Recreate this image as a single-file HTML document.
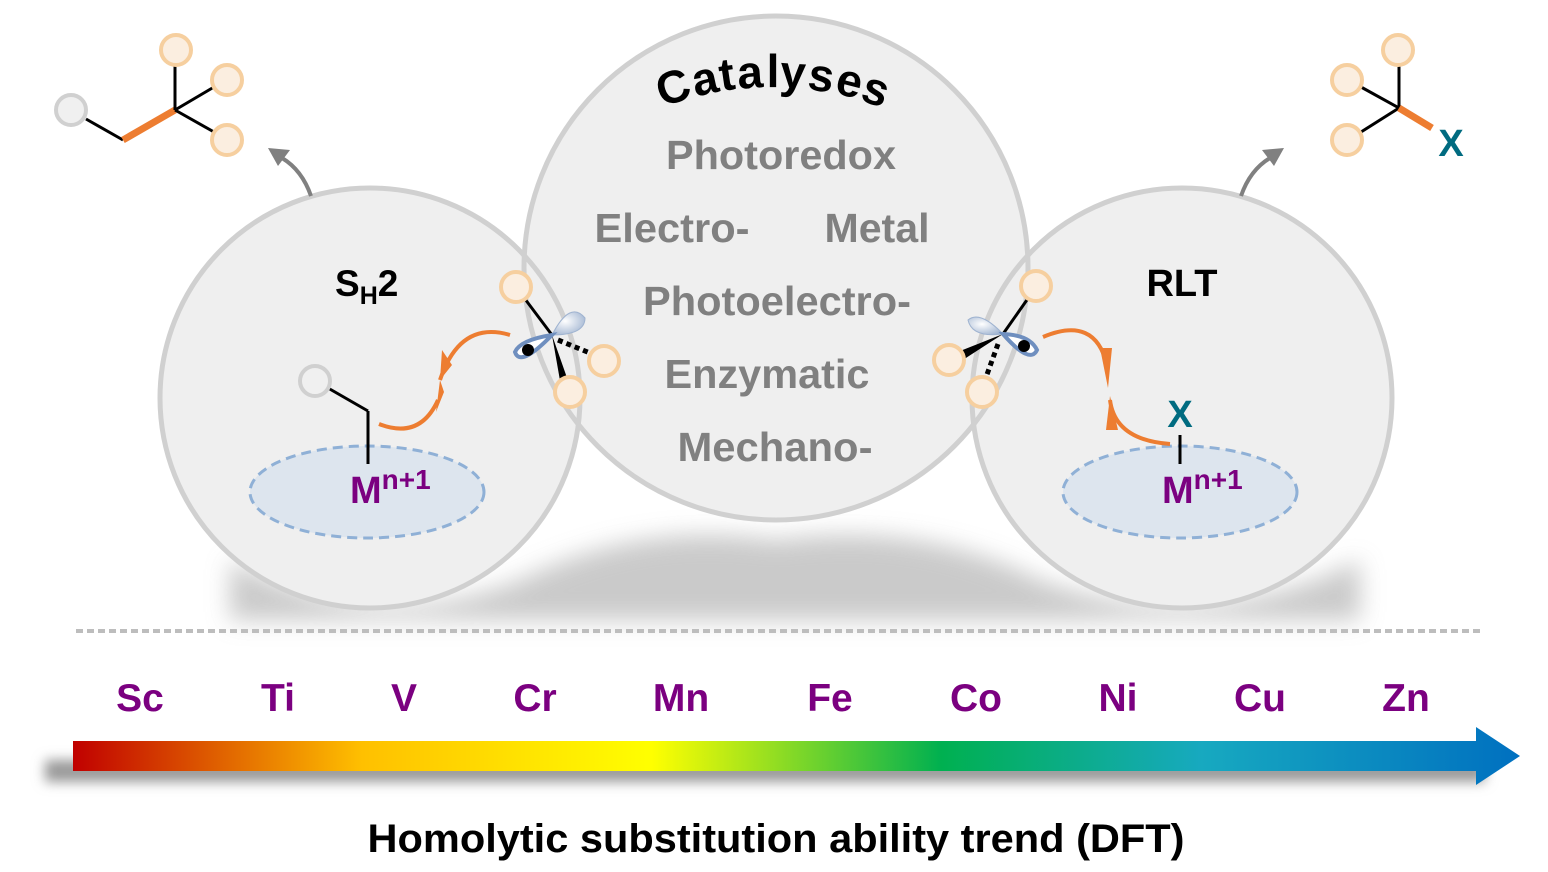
<!DOCTYPE html>
<html><head><meta charset="utf-8"><style>
html,body{margin:0;padding:0;background:#fff;}
svg{display:block;font-family:"Liberation Sans",sans-serif;font-weight:bold;}
</style></head><body>
<svg width="1548" height="872" viewBox="0 0 1548 872" xmlns="http://www.w3.org/2000/svg">
<defs>
<filter id="blur" x="-20%" y="-50%" width="140%" height="200%"><feGaussianBlur stdDeviation="12"/></filter>
<filter id="blur2" x="-5%" y="-100%" width="110%" height="300%"><feGaussianBlur stdDeviation="6"/></filter>
<linearGradient id="rb" x1="73" y1="0" x2="1520" y2="0" gradientUnits="userSpaceOnUse">
<stop offset="0" stop-color="#c00000"/><stop offset="0.2" stop-color="#ffc000"/><stop offset="0.4" stop-color="#ffff00"/>
<stop offset="0.6" stop-color="#00b050"/><stop offset="0.78" stop-color="#17a9c0"/><stop offset="1" stop-color="#0070c0"/>
</linearGradient>
<radialGradient id="lobe" cx="0.4" cy="0.4" r="0.7"><stop offset="0" stop-color="#fff"/><stop offset="1" stop-color="#9fb3d0"/></radialGradient>
</defs>
<!-- shadows -->
<path d="M230 560 Q370 640 520 580 Q640 520 776 540 Q920 520 1040 580 Q1200 640 1360 560 L1360 620 L230 620 Z" fill="#bdbdbd" filter="url(#blur)" opacity="0.8"/>
<!-- circle fills -->
<circle cx="776" cy="268" r="252" fill="#efefef"/>
<circle cx="370" cy="398" r="210" fill="#efefef"/>
<circle cx="1182" cy="398" r="210" fill="#efefef"/>
<circle cx="776" cy="268" r="252" fill="none" stroke="#d0d0d0" stroke-width="5"/>
<circle cx="370" cy="398" r="210" fill="none" stroke="#d0d0d0" stroke-width="5"/>
<circle cx="1182" cy="398" r="210" fill="none" stroke="#d0d0d0" stroke-width="5"/>
<!-- Catalyses arched -->
<g font-size="46" fill="#000" text-anchor="middle">
<text x="678" y="102" transform="rotate(-18.4 678 102)">C</text>
<text x="708" y="94" transform="rotate(-12.5 708 94)">a</text>
<text x="729" y="90" transform="rotate(-8.4 729 90)">t</text>
<text x="751" y="88" transform="rotate(-4.2 751 88)">a</text>
<text x="773" y="87">l</text>
<text x="792" y="88" transform="rotate(3.7 792 88)">y</text>
<text x="819" y="91" transform="rotate(8.8 819 91)">s</text>
<text x="846" y="96" transform="rotate(14 846 96)">e</text>
<text x="871" y="104" transform="rotate(19.2 871 104)">s</text>
</g>
<g fill="#808080" font-size="41" text-anchor="middle">
<text x="781" y="169" textLength="230" lengthAdjust="spacingAndGlyphs">Photoredox</text>
<text x="672" y="242" textLength="155" lengthAdjust="spacingAndGlyphs">Electro-</text>
<text x="877" y="242" textLength="105" lengthAdjust="spacingAndGlyphs">Metal</text>
<text x="777" y="315" textLength="268" lengthAdjust="spacingAndGlyphs">Photoelectro-</text>
<text x="767" y="388" textLength="205" lengthAdjust="spacingAndGlyphs">Enzymatic</text>
<text x="775" y="461" textLength="195" lengthAdjust="spacingAndGlyphs">Mechano-</text>
</g>
<!-- left -->
<text x="335" y="296" font-size="37" fill="#000">S<tspan font-size="25" dy="8">H</tspan><tspan dy="-8">2</tspan></text>
<ellipse cx="367" cy="492" rx="117" ry="46" fill="#dde5ee" stroke="#8fb0d6" stroke-width="3" stroke-dasharray="10 6"/>
<text x="350" y="503" font-size="38" fill="#7b0080">M<tspan font-size="28" dy="-14">n+1</tspan></text>
<line x1="368" y1="464" x2="368" y2="411" stroke="#000" stroke-width="3"/>
<line x1="368" y1="411" x2="328" y2="388" stroke="#000" stroke-width="3"/>
<circle cx="315" cy="381" r="15" fill="#f0f0f0" stroke="#d0d0d0" stroke-width="4"/>
<path d="M379 424 Q420 440 438 400 M440 380 Q460 320 510 335" fill="none" stroke="#ed7d31" stroke-width="4"/>
<path d="M436 412 L444 392 L440 380 Z" fill="#ed7d31"/><path d="M442 350 L452 365 L440 380 Z" fill="#ed7d31"/>
<line x1="516" y1="287" x2="552" y2="335" stroke="#000" stroke-width="3"/>
<path d="M552 335 L572 392 L562 392 Z" fill="#000"/>
<line x1="558" y1="340" x2="595" y2="355" stroke="#000" stroke-width="5" stroke-dasharray="5 4"/>
<path d="M552 335 Q570 300 585 318 Q585 335 552 335 Z" fill="url(#lobe)" stroke="#9fb3d0"/>
<path d="M552 335 Q520 340 515 352 Q520 368 552 335 Z" fill="#fff" stroke="#6f8fbf" stroke-width="4"/>
<circle cx="528" cy="350" r="6" fill="#000"/>
<circle cx="516" cy="287" r="15" fill="#fbeee0" stroke="#f6cf9f" stroke-width="4"/>
<circle cx="604" cy="361" r="15" fill="#fbeee0" stroke="#f6cf9f" stroke-width="4"/>
<circle cx="570" cy="392" r="15" fill="#fbeee0" stroke="#f6cf9f" stroke-width="4"/>
<!-- right -->
<text x="1182" y="296" font-size="38" fill="#000" text-anchor="middle">RLT</text>
<ellipse cx="1180" cy="492" rx="117" ry="46" fill="#dde5ee" stroke="#8fb0d6" stroke-width="3" stroke-dasharray="10 6"/>
<text x="1162" y="503" font-size="38" fill="#7b0080">M<tspan font-size="28" dy="-14">n+1</tspan></text>
<line x1="1180" y1="464" x2="1180" y2="435" stroke="#000" stroke-width="3"/>
<text x="1180" y="427" font-size="38" fill="#006b80" text-anchor="middle">X</text>
<path d="M1043 337 Q1095 315 1107 365 M1110 400 Q1115 440 1170 444" fill="none" stroke="#ed7d31" stroke-width="4"/>
<path d="M1100 348 L1112 348 L1108 388 Z" fill="#ed7d31"/><path d="M1110 396 L1118 430 L1106 430 Z" fill="#ed7d31"/>
<line x1="1036" y1="287" x2="1003" y2="334" stroke="#000" stroke-width="3"/>
<path d="M1003 334 L950 355 L955 365 Z" fill="#000"/>
<line x1="998" y1="344" x2="985" y2="380" stroke="#000" stroke-width="5" stroke-dasharray="5 4"/>
<path d="M1003 334 Q980 310 968 320 Q972 338 1003 334 Z" fill="url(#lobe)" stroke="#9fb3d0"/>
<path d="M1003 334 Q1030 335 1037 350 Q1030 365 1003 334 Z" fill="#fff" stroke="#6f8fbf" stroke-width="4"/>
<circle cx="1024" cy="346" r="6" fill="#000"/>
<circle cx="1036" cy="286" r="15" fill="#fbeee0" stroke="#f6cf9f" stroke-width="4"/>
<circle cx="949" cy="360" r="15" fill="#fbeee0" stroke="#f6cf9f" stroke-width="4"/>
<circle cx="982" cy="392" r="15" fill="#fbeee0" stroke="#f6cf9f" stroke-width="4"/>
<!-- top-left molecule -->
<line x1="86" y1="119" x2="123" y2="140" stroke="#000" stroke-width="3"/>
<line x1="123" y1="140" x2="175" y2="110" stroke="#ed7d31" stroke-width="7"/>
<line x1="175" y1="110" x2="175" y2="63" stroke="#000" stroke-width="3"/>
<line x1="175" y1="110" x2="214" y2="87" stroke="#000" stroke-width="3"/>
<line x1="175" y1="110" x2="214" y2="132" stroke="#000" stroke-width="3"/>
<circle cx="71" cy="110" r="15" fill="#f0f0f0" stroke="#d0d0d0" stroke-width="4"/>
<circle cx="176" cy="50" r="15" fill="#fbeee0" stroke="#f6cf9f" stroke-width="4"/>
<circle cx="227" cy="80" r="15" fill="#fbeee0" stroke="#f6cf9f" stroke-width="4"/>
<circle cx="227" cy="140" r="15" fill="#fbeee0" stroke="#f6cf9f" stroke-width="4"/>
<path d="M311 196 Q302 170 282 158" fill="none" stroke="#808080" stroke-width="4"/>
<path d="M268 148 L290 150 L278 166 Z" fill="#808080"/>
<!-- top-right molecule -->
<line x1="1399" y1="108" x2="1399" y2="63" stroke="#000" stroke-width="3"/>
<line x1="1399" y1="108" x2="1361" y2="87" stroke="#000" stroke-width="3"/>
<line x1="1399" y1="108" x2="1361" y2="132" stroke="#000" stroke-width="3"/>
<line x1="1399" y1="108" x2="1432" y2="128" stroke="#ed7d31" stroke-width="7"/>
<circle cx="1398" cy="50" r="15" fill="#fbeee0" stroke="#f6cf9f" stroke-width="4"/>
<circle cx="1347" cy="80" r="15" fill="#fbeee0" stroke="#f6cf9f" stroke-width="4"/>
<circle cx="1347" cy="140" r="15" fill="#fbeee0" stroke="#f6cf9f" stroke-width="4"/>
<text x="1451" y="156" font-size="38" fill="#006b80" text-anchor="middle">X</text>
<path d="M1241 196 Q1250 170 1270 158" fill="none" stroke="#808080" stroke-width="4"/>
<path d="M1284 148 L1262 150 L1274 166 Z" fill="#808080"/>
<!-- dotted line -->
<line x1="76" y1="631" x2="1484" y2="631" stroke="#bdbdbd" stroke-width="4" stroke-dasharray="7 4"/>
<!-- elements -->
<g fill="#7b0080" font-size="39" text-anchor="middle">
<text x="140" y="711">Sc</text><text x="278" y="711">Ti</text><text x="404" y="711">V</text>
<text x="535" y="711">Cr</text><text x="681" y="711">Mn</text><text x="830" y="711">Fe</text>
<text x="976" y="711">Co</text><text x="1118" y="711">Ni</text><text x="1260" y="711">Cu</text><text x="1406" y="711">Zn</text>
</g>
<!-- arrow -->
<rect x="45" y="760" width="1440" height="22" fill="#9a9a9a" filter="url(#blur2)"/>
<path d="M73 741 L1476 741 L1476 727 L1520 756 L1476 785 L1476 771 L73 771 Z" fill="url(#rb)"/>
<text x="776" y="852" font-size="40" fill="#000" text-anchor="middle" textLength="817" lengthAdjust="spacingAndGlyphs">Homolytic substitution ability trend (DFT)</text>
</svg>
</body></html>
